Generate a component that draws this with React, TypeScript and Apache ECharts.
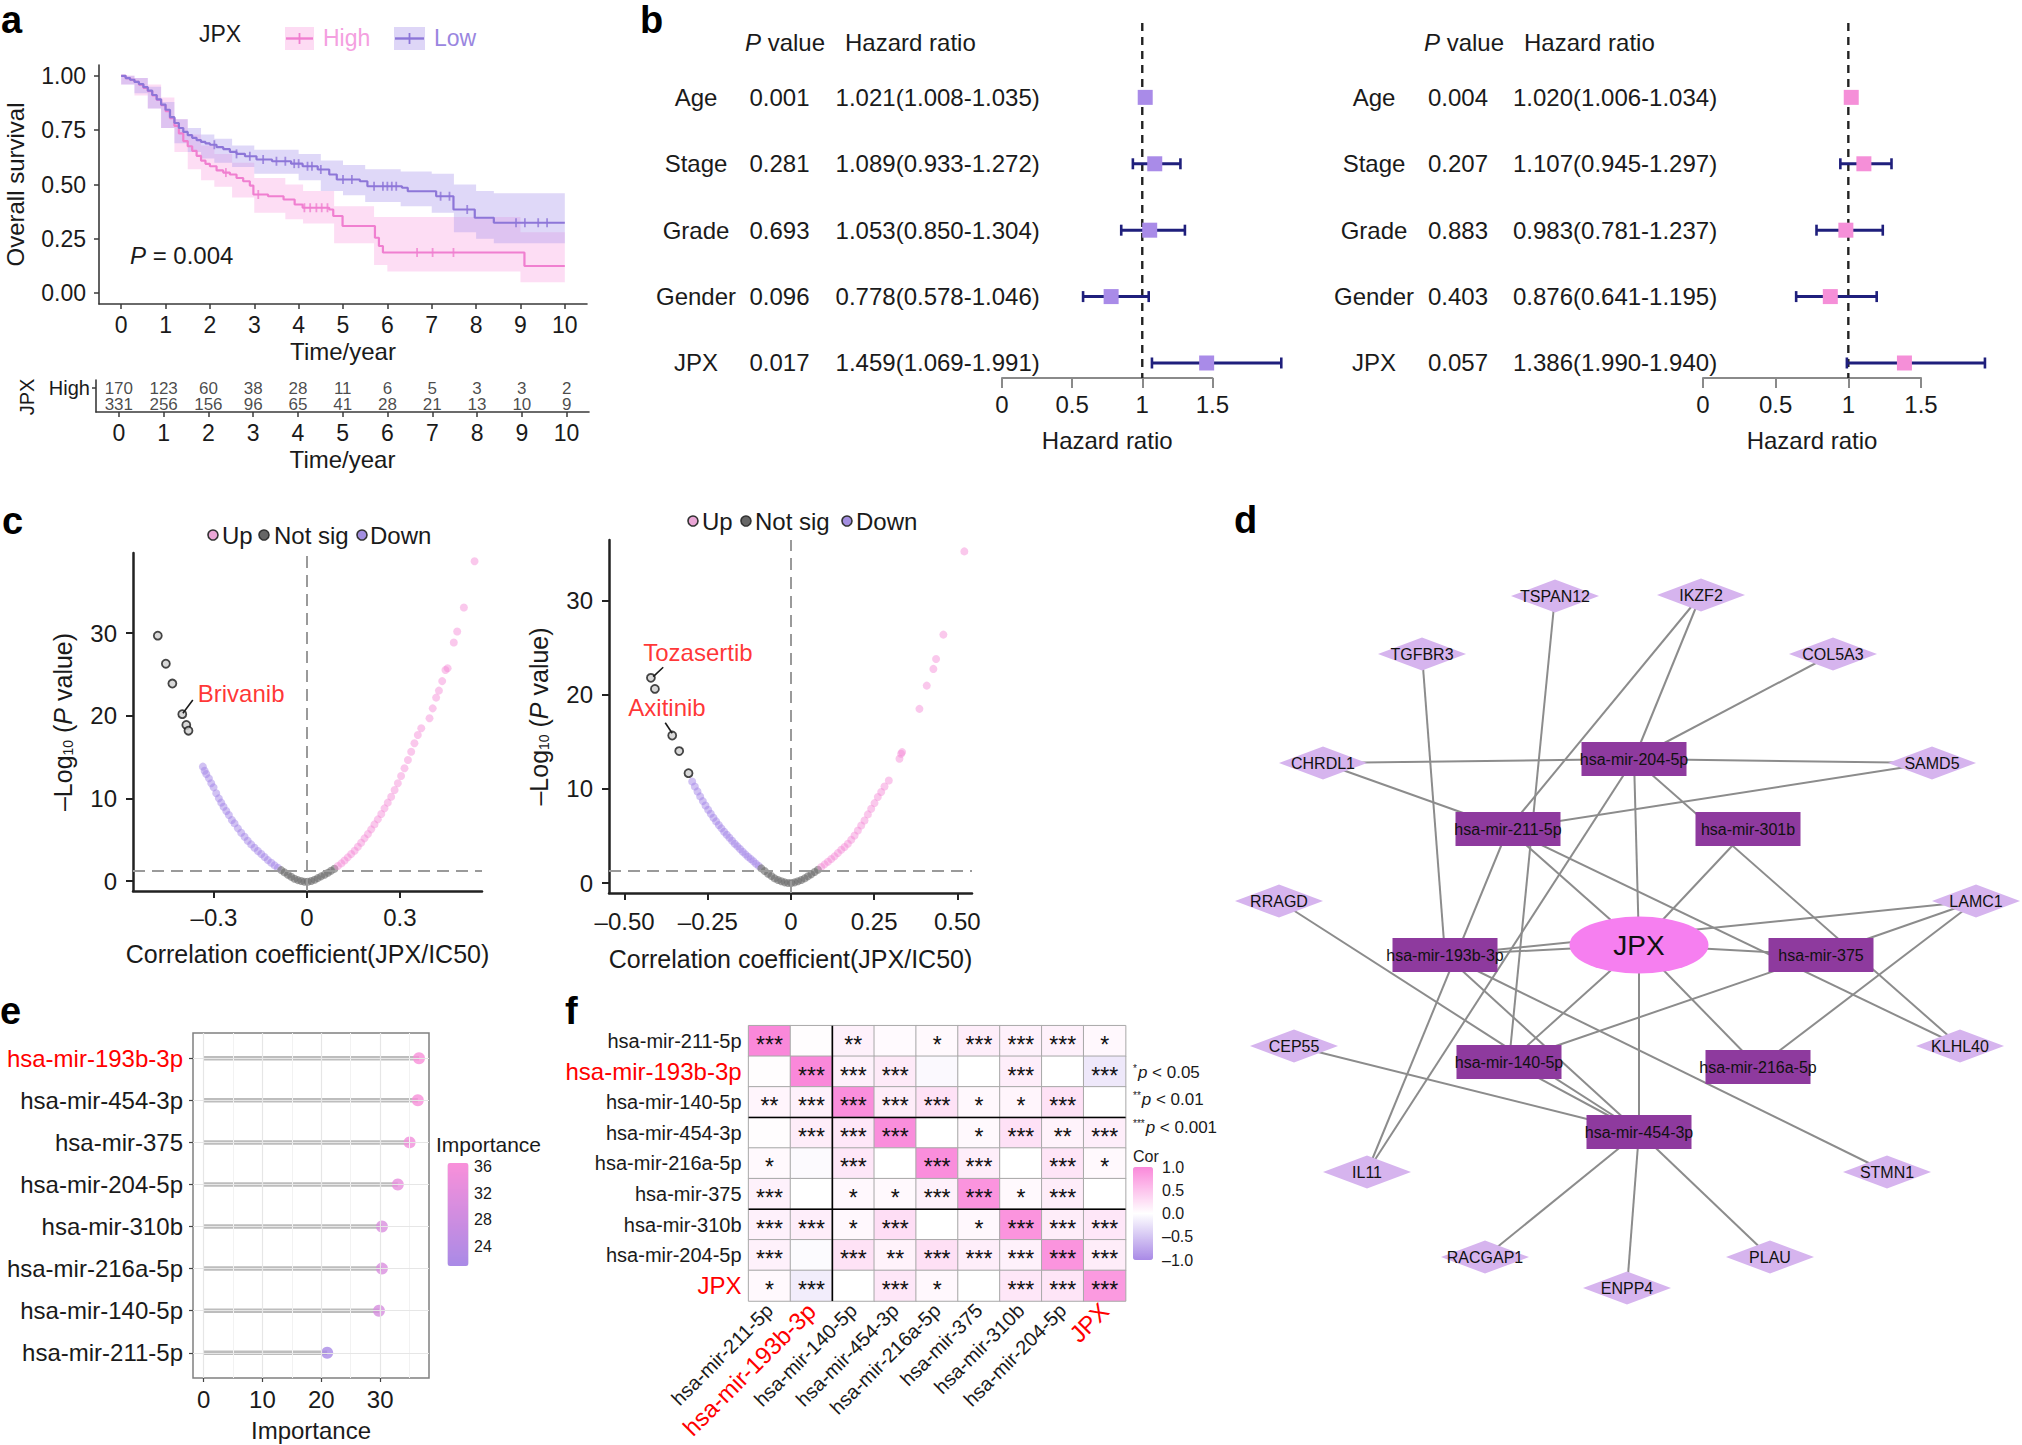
import React, { useEffect, useRef } from "react";
import * as echarts from "echarts";

const FONT = "'Liberation Sans', Arial, Helvetica, sans-serif";
const INK = "#1a1a1a";
const RED = "#ff0000";

// ---------------- a: Kaplan-Meier ----------------
const kmYears = [0, 1, 2, 3, 4, 5, 6, 7, 8, 9, 10];
const kmSurvTicks = [0, 0.25, 0.5, 0.75, 1];
const kmHigh: number[][] = [
  [0, 1], [0.1, 0.99], [0.2, 0.982], [0.3, 0.972], [0.4, 0.96], [0.5, 0.945], [0.6, 0.93], [0.7, 0.91],
  [0.8, 0.89], [0.9, 0.865], [1.0, 0.838], [1.1, 0.805], [1.2, 0.77], [1.3, 0.735], [1.4, 0.7], [1.5, 0.676],
  [1.6, 0.655], [1.7, 0.632], [1.8, 0.61], [1.9, 0.595], [2.0, 0.584], [2.15, 0.565], [2.3, 0.555], [2.45, 0.546],
  [2.6, 0.53], [2.75, 0.515], [2.9, 0.495], [2.98, 0.454], [3.31, 0.446], [3.66, 0.431], [3.91, 0.408],
  [4.09, 0.393], [4.69, 0.385], [4.78, 0.355], [4.99, 0.309], [5.72, 0.255], [5.81, 0.217], [5.9, 0.187],
  [9.09, 0.125], [10, 0.125],
];
const kmLow: number[][] = [
  [0, 1], [0.1, 0.99], [0.2, 0.982], [0.3, 0.972], [0.4, 0.962], [0.5, 0.948], [0.6, 0.932], [0.7, 0.912],
  [0.8, 0.892], [0.9, 0.868], [1.0, 0.844], [1.1, 0.81], [1.2, 0.783], [1.3, 0.76], [1.4, 0.742], [1.5, 0.727],
  [1.6, 0.715], [1.7, 0.704], [1.8, 0.696], [1.9, 0.689], [2.0, 0.683], [2.15, 0.672], [2.3, 0.663], [2.45, 0.65],
  [2.6, 0.641], [2.79, 0.63], [3.05, 0.615], [3.4, 0.607], [3.83, 0.596], [4.09, 0.584], [4.43, 0.569],
  [4.69, 0.546], [4.86, 0.523], [5.38, 0.515], [5.55, 0.492], [6.33, 0.485], [6.46, 0.469], [7.1, 0.446],
  [7.49, 0.385], [7.97, 0.347], [8.4, 0.324], [10, 0.324],
];
// [t0, t1, lower, upper]
const kmHighCI: number[][] = [
  [0, 0.3, 0.96, 1.0], [0.3, 0.6, 0.91, 0.99], [0.6, 0.9, 0.85, 0.96], [0.9, 1.2, 0.76, 0.9],
  [1.2, 1.5, 0.65, 0.8], [1.5, 1.8, 0.57, 0.73], [1.8, 2.1, 0.52, 0.68], [2.1, 2.5, 0.49, 0.64],
  [2.5, 3.0, 0.44, 0.6], [3.0, 3.7, 0.37, 0.53], [3.7, 4.1, 0.34, 0.5], [4.1, 4.8, 0.32, 0.47],
  [4.8, 5.7, 0.23, 0.4], [5.7, 6.0, 0.13, 0.35], [6.0, 9.0, 0.1, 0.35], [9.0, 10.0, 0.05, 0.28],
];
const kmLowCI: number[][] = [
  [0, 0.3, 0.96, 1.0], [0.3, 0.6, 0.92, 0.99], [0.6, 0.9, 0.85, 0.95], [0.9, 1.2, 0.76, 0.88],
  [1.2, 1.5, 0.69, 0.8], [1.5, 1.8, 0.65, 0.76], [1.8, 2.1, 0.62, 0.73], [2.1, 2.5, 0.6, 0.71],
  [2.5, 3.0, 0.58, 0.68], [3.0, 4.0, 0.55, 0.66], [4.0, 4.5, 0.52, 0.64],
  [4.5, 5.0, 0.47, 0.61], [5.0, 5.5, 0.45, 0.59], [5.5, 6.3, 0.42, 0.57], [6.3, 7.0, 0.4, 0.56],
  [7.0, 7.5, 0.37, 0.55], [7.5, 8.0, 0.28, 0.5], [8.0, 8.4, 0.25, 0.47], [8.4, 10.0, 0.23, 0.46],
];
const kmHighCensor: number[][] = [
  [2.36, 0.555], [3.09, 0.454], [4.13, 0.393], [4.26, 0.393], [4.4, 0.393], [4.52, 0.393], [4.65, 0.393],
  [6.67, 0.187], [7.02, 0.187], [7.49, 0.187],
];
const kmLowCensor: number[][] = [
  [2.1, 0.683], [2.6, 0.641], [2.9, 0.63], [3.2, 0.615], [3.5, 0.607], [3.7, 0.607], [3.9, 0.596], [4.0, 0.596],
  [4.2, 0.584], [4.3, 0.584], [4.5, 0.569], [5.0, 0.523], [5.2, 0.523], [5.7, 0.492], [5.9, 0.492], [6.0, 0.492],
  [6.1, 0.492], [6.2, 0.492], [7.2, 0.446], [7.4, 0.446], [7.8, 0.385], [8.9, 0.324], [9.1, 0.324], [9.4, 0.324], [9.6, 0.324],
];
const riskRows = ["Low", "High"];
const riskHigh = [170, 123, 60, 38, 28, 11, 6, 5, 3, 3, 2];
const riskLow = [331, 256, 156, 96, 65, 41, 28, 21, 13, 10, 9];

// ---------------- b: forest plots ----------------
const forestFactors = ["Age", "Stage", "Grade", "Gender", "JPX"];
const forestTicks = [0, 0.5, 1, 1.5];
const uniP = ["0.001", "0.281", "0.693", "0.096", "0.017"];
const uniHR = [1.021, 1.089, 1.053, 0.778, 1.459];
const uniLo = [1.008, 0.933, 0.85, 0.578, 1.069];
const uniHi = [1.035, 1.272, 1.304, 1.046, 1.991];
const multiP = ["0.004", "0.207", "0.883", "0.403", "0.057"];
const multiHR = [1.02, 1.107, 0.983, 0.876, 1.386];
const multiLo = [1.006, 0.945, 0.781, 0.641, 0.99];
const multiHi = [1.034, 1.297, 1.237, 1.195, 1.94];
const multiText = ["1.020(1.006-1.034)", "1.107(0.945-1.297)", "0.983(0.781-1.237)", "0.876(0.641-1.195)", "1.386(1.990-1.940)"];

// ---------------- c: volcano plots ----------------
const v1Ticks = [-0.3, 0, 0.3];
const v1Down: number[][] = [
  [-0.3355, 13.85], [-0.33, 13.36], [-0.3247, 12.96], [-0.316, 12.43], [-0.3086, 11.83], [-0.301, 11.34],
  [-0.2925, 10.62], [-0.284, 10.01], [-0.2763, 9.49], [-0.2688, 9.0], [-0.26, 8.48], [-0.2516, 7.99],
  [-0.242, 7.39], [-0.2333, 6.98], [-0.2226, 6.38], [-0.212, 5.85], [-0.201, 5.37], [-0.191, 4.88],
  [-0.1796, 4.44], [-0.169, 4.04], [-0.158, 3.63], [-0.147, 3.27], [-0.1366, 2.91], [-0.126, 2.54],
  [-0.115, 2.22], [-0.104, 1.9], [-0.0935, 1.61],
];
const v1NotSig: number[][] = [
  [-0.083, 1.33], [-0.072, 1.05], [-0.061, 0.77], [-0.0505, 0.52], [-0.04, 0.28], [-0.029, 0.12], [-0.018, 0.0],
  [-0.0075, -0.08], [0.003, -0.08], [0.014, 0.0], [0.025, 0.16], [0.035, 0.36], [0.046, 0.57], [0.057, 0.77],
  [0.068, 1.0], [0.078, 1.25], [0.089, 1.49],
];
const v1Up: number[][] = [
  [0.1, 1.82], [0.111, 2.14], [0.1215, 2.5], [0.132, 2.87], [0.143, 3.27], [0.154, 3.67], [0.1645, 4.16],
  [0.175, 4.64], [0.186, 5.17], [0.197, 5.69], [0.2075, 6.26], [0.218, 6.86], [0.229, 7.47], [0.24, 8.11],
  [0.2505, 8.8], [0.261, 9.49], [0.272, 10.21], [0.283, 11.02], [0.2935, 11.83], [0.304, 12.72], [0.315, 13.65],
  [0.326, 14.65], [0.3366, 15.66], [0.347, 16.67], [0.358, 17.68], [0.369, 18.49], [0.3957, 19.7], [0.406, 20.9],
  [0.417, 22.2], [0.426, 23.05], [0.4366, 24.2], [0.447, 25.55], [0.454, 25.76], [0.474, 28.87], [0.485, 30.2],
  [0.5065, 33.1], [0.541, 38.7],
];
const v1Marked: number[][] = [[-0.481, 29.7], [-0.455, 26.3], [-0.434, 23.9], [-0.402, 20.2], [-0.389, 18.9], [-0.382, 18.2]];
const v1Labels = [{ name: "Brivanib", at: [-0.352, 22.7], from: [-0.4, 20.3], to: [-0.368, 21.9] }];

const v2Ticks = [-0.5, -0.25, 0, 0.25, 0.5];
const v2Down: number[][] = [
  [-0.297, 10.78], [-0.289, 10.25], [-0.281, 9.72], [-0.273, 9.19], [-0.265, 8.69], [-0.257, 8.23], [-0.249, 7.77],
  [-0.241, 7.35], [-0.233, 6.93], [-0.225, 6.54], [-0.217, 6.15], [-0.209, 5.8], [-0.201, 5.44], [-0.193, 5.12],
  [-0.185, 4.81], [-0.177, 4.49], [-0.169, 4.17], [-0.161, 3.89], [-0.153, 3.6], [-0.145, 3.32], [-0.137, 3.04],
  [-0.129, 2.79], [-0.121, 2.54], [-0.113, 2.3], [-0.105, 2.05], [-0.097, 1.8],
];
const v2NotSig: number[][] = [
  [-0.089, 1.55], [-0.079, 1.27], [-0.069, 0.99], [-0.059, 0.74], [-0.049, 0.49], [-0.039, 0.32], [-0.029, 0.18],
  [-0.019, 0.07], [-0.009, 0], [0.001, 0], [0.011, 0.07], [0.021, 0.18], [0.031, 0.32], [0.041, 0.49],
  [0.051, 0.71], [0.061, 0.92], [0.071, 1.17], [0.081, 1.41],
];
const v2Up: number[][] = [
  [0.091, 1.7], [0.101, 1.98], [0.111, 2.26], [0.121, 2.54], [0.131, 2.83], [0.141, 3.18], [0.151, 3.53],
  [0.161, 3.82], [0.171, 4.17], [0.181, 4.59], [0.191, 5.05], [0.201, 5.58], [0.211, 6.11], [0.221, 6.64],
  [0.231, 7.28], [0.241, 7.88], [0.251, 8.48], [0.261, 9.12], [0.271, 9.65], [0.281, 10.25], [0.294, 10.88],
  [0.326, 13.18], [0.331, 13.71], [0.334, 13.89], [0.386, 18.48], [0.408, 20.95], [0.428, 22.72], [0.436, 23.78],
  [0.458, 26.36], [0.521, 35.19],
];
const v2Marked: number[][] = [[-0.421, 21.77], [-0.409, 20.6], [-0.357, 15.65], [-0.336, 14.0], [-0.308, 11.66]];
const v2Labels = [
  { name: "Tozasertib", at: [-0.444, 24.5], from: [-0.384, 22.9], to: [-0.414, 21.9] },
  { name: "Axitinib", at: [-0.489, 18.6], from: [-0.378, 17.0], to: [-0.357, 15.9] },
];

// ---------------- d: network ----------------
// [name, kind, x, y] in layout units
const netNodes: [string, string, number, number][] = [
  ["TSPAN12", "gene", 355, 116], ["IKZF2", "gene", 501, 115], ["TGFBR3", "gene", 222, 174], ["COL5A3", "gene", 633, 174],
  ["CHRDL1", "gene", 123, 283], ["SAMD5", "gene", 732, 283], ["RRAGD", "gene", 79, 421], ["LAMC1", "gene", 776, 421],
  ["CEP55", "gene", 94, 566], ["KLHL40", "gene", 760, 566], ["IL11", "gene", 167, 692], ["STMN1", "gene", 687, 692],
  ["RACGAP1", "gene", 285, 777], ["ENPP4", "gene", 427, 808], ["PLAU", "gene", 570, 777],
  ["hsa-mir-204-5p", "mir", 434, 279], ["hsa-mir-211-5p", "mir", 308, 349], ["hsa-mir-301b", "mir", 548, 349],
  ["hsa-mir-193b-3p", "mir", 245, 475], ["hsa-mir-375", "mir", 621, 475], ["hsa-mir-140-5p", "mir", 309, 582],
  ["hsa-mir-216a-5p", "mir", 558, 587], ["hsa-mir-454-3p", "mir", 439, 652],
  ["JPX", "lnc", 439, 465],
];
const netEdges: [string, string][] = [
  ["JPX", "hsa-mir-204-5p"], ["JPX", "hsa-mir-211-5p"], ["JPX", "hsa-mir-301b"], ["JPX", "hsa-mir-193b-3p"],
  ["JPX", "hsa-mir-375"], ["JPX", "hsa-mir-140-5p"], ["JPX", "hsa-mir-216a-5p"], ["JPX", "hsa-mir-454-3p"],
  ["hsa-mir-204-5p", "IKZF2"], ["hsa-mir-204-5p", "COL5A3"], ["hsa-mir-204-5p", "CHRDL1"], ["hsa-mir-204-5p", "SAMD5"],
  ["hsa-mir-204-5p", "KLHL40"], ["hsa-mir-204-5p", "IL11"],
  ["hsa-mir-211-5p", "IKZF2"], ["hsa-mir-211-5p", "CHRDL1"], ["hsa-mir-211-5p", "SAMD5"], ["hsa-mir-211-5p", "IL11"],
  ["hsa-mir-211-5p", "KLHL40"],
  ["hsa-mir-193b-3p", "TGFBR3"], ["hsa-mir-193b-3p", "LAMC1"], ["hsa-mir-193b-3p", "STMN1"], ["hsa-mir-193b-3p", "hsa-mir-454-3p"],
  ["hsa-mir-140-5p", "TSPAN12"], ["hsa-mir-140-5p", "hsa-mir-375"], ["hsa-mir-140-5p", "hsa-mir-454-3p"],
  ["hsa-mir-375", "LAMC1"], ["hsa-mir-216a-5p", "LAMC1"],
  ["hsa-mir-454-3p", "RRAGD"], ["hsa-mir-454-3p", "CEP55"], ["hsa-mir-454-3p", "RACGAP1"], ["hsa-mir-454-3p", "ENPP4"],
  ["hsa-mir-454-3p", "PLAU"],
];

// ---------------- e: importance ----------------
const impNames = ["hsa-mir-193b-3p", "hsa-mir-454-3p", "hsa-mir-375", "hsa-mir-204-5p", "hsa-mir-310b", "hsa-mir-216a-5p", "hsa-mir-140-5p", "hsa-mir-211-5p"];
const impValues = [36.6, 36.4, 35.0, 33.0, 30.3, 30.3, 29.8, 21.0];
const impTicks = [0, 10, 20, 30];
const impLegendTicks = [24, 28, 32, 36];

// ---------------- f: correlation heatmap ----------------
const corNames = ["hsa-mir-211-5p", "hsa-mir-193b-3p", "hsa-mir-140-5p", "hsa-mir-454-3p", "hsa-mir-216a-5p", "hsa-mir-375", "hsa-mir-310b", "hsa-mir-204-5p", "JPX"];
const corValues = [
  [1.0, 0.02, 0.12, 0.04, 0.05, 0.14, 0.12, 0.12, 0.06],
  [0.02, 1.0, 0.12, 0.18, -0.05, 0.0, 0.14, 0.0, -0.2],
  [0.08, 0.12, 0.95, 0.15, 0.24, 0.06, 0.08, 0.24, 0.0],
  [0.02, 0.15, 0.2, 0.95, 0.0, 0.05, 0.25, 0.1, 0.14],
  [0.05, -0.04, 0.2, 0.0, 0.95, 0.14, 0.0, 0.22, 0.05],
  [0.12, 0.0, 0.06, 0.05, 0.12, 0.9, 0.05, 0.15, 0.0],
  [0.12, 0.14, 0.06, 0.28, 0.0, 0.06, 0.9, 0.15, 0.2],
  [0.12, -0.03, 0.24, 0.1, 0.26, 0.14, 0.12, 0.9, 0.15],
  [0.05, -0.15, 0.0, 0.2, 0.06, 0.0, 0.2, 0.22, 0.85],
];
const corStars = [
  ["***", "", "**", "", "*", "***", "***", "***", "*"],
  ["", "***", "***", "***", "", "", "***", "", "***"],
  ["**", "***", "***", "***", "***", "*", "*", "***", ""],
  ["", "***", "***", "***", "", "*", "***", "**", "***"],
  ["*", "", "***", "", "***", "***", "", "***", "*"],
  ["***", "", "*", "*", "***", "***", "*", "***", ""],
  ["***", "***", "*", "***", "", "*", "***", "***", "***"],
  ["***", "", "***", "**", "***", "***", "***", "***", "***"],
  ["*", "***", "", "***", "*", "", "***", "***", "***"],
];
const corLegendTicks = [1.0, 0.5, 0.0, -0.5, -1.0];
const highlightNames = ["hsa-mir-193b-3p", "JPX"];

// ---------------- layout ----------------
const G = {
  km: { left: 99, top: 65, width: 488, height: 239 },
  risk: { left: 96, top: 380, width: 493, height: 32 },
  fl: { left: 1002, top: 23, width: 210.4, height: 355 },
  fr: { left: 1703, top: 23, width: 218, height: 355 },
  v1: { left: 133, top: 553, width: 349, height: 338 },
  v2: { left: 609, top: 540, width: 363, height: 353 },
  e: { left: 193, top: 1033, width: 236, height: 345 },
  f: { left: 748.6, top: 1025.7, width: 377, height: 275.3 },
  n: { left: 1200, top: 480, width: 822, height: 965 },
};
const FOREST_Y = [-1.12, 4.226];

const txt = (size: number, extra: any = {}) => ({ fontFamily: FONT, fontSize: size, color: INK, ...extra });
const dash = (v: number) => (v < 0 ? "\u2013" + String(Math.abs(v)) : String(v));

function textEl(text: string, x: number, y: number, size: number, extra: any = {}, styleExtra: any = {}) {
  return {
    type: "text", x, y, silent: true, ...extra,
    style: { text, fontFamily: FONT, fontSize: size, fill: INK, align: "left", verticalAlign: "middle", ...styleExtra },
  };
}

function bandSeries(band: number[][], fill: string) {
  return {
    type: "custom", xAxisIndex: 0, yAxisIndex: 0, z: 1, clip: false, silent: true,
    data: [[0, 0]],
    renderItem: (_p: any, api: any) => {
      const upper: number[][] = [];
      const lower: number[][] = [];
      band.forEach((b) => {
        upper.push(api.coord([b[0], b[3]]), api.coord([b[1], b[3]]));
        lower.push(api.coord([b[0], b[2]]), api.coord([b[1], b[2]]));
      });
      return { type: "polygon", shape: { points: upper.concat(lower.reverse()) }, style: { fill } };
    },
  };
}

function forestSeries(hr: number[], lo: number[], hi: number[], color: string, axis: number) {
  const navy = "#1f1f7c";
  return {
    type: "custom", xAxisIndex: axis, yAxisIndex: axis, clip: false, z: 5, silent: true,
    encode: { x: [0, 1, 2], y: 3 },
    data: hr.map((h, i) => [h, lo[i], hi[i], i]),
    renderItem: (_p: any, api: any) => {
      const row = api.value(3);
      const c = api.coord([api.value(0), row]);
      const a = api.coord([api.value(1), row]);
      const b = api.coord([api.value(2), row]);
      const cap = 5.5;
      return {
        type: "group",
        children: [
          { type: "line", shape: { x1: a[0], y1: a[1], x2: b[0], y2: b[1] }, style: { stroke: navy, lineWidth: 3 } },
          { type: "line", shape: { x1: a[0], y1: a[1] - cap, x2: a[0], y2: a[1] + cap }, style: { stroke: navy, lineWidth: 2.6 } },
          { type: "line", shape: { x1: b[0], y1: b[1] - cap, x2: b[0], y2: b[1] + cap }, style: { stroke: navy, lineWidth: 2.6 } },
          { type: "rect", shape: { x: c[0] - 7.5, y: c[1] - 7.5, width: 15, height: 15 }, style: { fill: color } },
        ],
      };
    },
  };
}

function volcanoSeries(ax: number, down: number[][], ns: number[][], up: number[][], marked: number[][], labels: any[]) {
  const dashed = { type: [12, 7], color: "#9a9a9a", width: 2 };
  return [
    { type: "scatter", xAxisIndex: ax, yAxisIndex: ax, data: down, symbolSize: 8, itemStyle: { color: "rgba(158,128,230,0.6)" }, z: 3, silent: true },
    { type: "scatter", xAxisIndex: ax, yAxisIndex: ax, data: ns, symbolSize: 8, itemStyle: { color: "rgba(105,105,105,0.75)" }, z: 3, silent: true },
    { type: "scatter", xAxisIndex: ax, yAxisIndex: ax, data: up, symbolSize: 8, itemStyle: { color: "rgba(244,130,212,0.55)" }, z: 3, silent: true },
    {
      type: "scatter", xAxisIndex: ax, yAxisIndex: ax, data: marked, symbolSize: 8, z: 4, silent: true,
      itemStyle: { color: "#cfcfcf", borderColor: "#1a1a1a", borderWidth: 1.8 },
      markLine: {
        silent: true, symbol: ["none", "none"], label: { show: false }, animation: false,
        data: [
          { xAxis: 0, lineStyle: dashed },
          { yAxis: 1.3, lineStyle: dashed },
          ...labels.map((l) => [
            { coord: l.from, lineStyle: { color: "#1a1a1a", width: 1.6, type: "solid" } },
            { coord: l.to },
          ]),
        ],
      },
    },
    {
      type: "scatter", xAxisIndex: ax, yAxisIndex: ax, symbolSize: 0, z: 6, silent: true,
      data: labels.map((l) => ({ name: l.name, value: l.at })),
      label: { show: true, formatter: "{b}", position: "right", distance: 0, ...txt(24, { color: RED }) },
    },
  ];
}

function buildOption() {
  const grids = [G.km, G.risk, G.fl, G.fr, G.v1, G.v2, G.e, G.f, G.n].map((g) => ({ ...g, containLabel: false }));
  (grids[6] as any).show = true;
  (grids[6] as any).borderColor = "#808080";
  (grids[6] as any).borderWidth = 1.5;
  (grids[6] as any).backgroundColor = "transparent";

  const darkLine = { onZero: false, lineStyle: { color: "#3a3a3a", width: 1.6 } };
  const volcLine = { onZero: false, lineStyle: { color: "#222", width: 2.5 } };
  const volcYName = {
    ...txt(25),
    rich: {
      n: { fontFamily: FONT, fontSize: 25, color: INK },
      s: { fontFamily: FONT, fontSize: 14, color: INK, verticalAlign: "bottom", lineHeight: 14, padding: [12, 0, 0, 0] },
      i: { fontFamily: FONT, fontSize: 25, color: INK, fontStyle: "italic" },
    },
  };

  const xAxis: any[] = [
    {
      gridIndex: 0, type: "value", min: -0.5, max: 10.5, axisLine: darkLine,
      axisTick: { customValues: kmYears, length: 5, lineStyle: { color: "#3a3a3a", width: 1.5 } },
      axisLabel: { customValues: kmYears, ...txt(23), margin: 9 }, splitLine: { show: false },
      name: "Time/year", nameLocation: "middle", nameGap: 35, nameTextStyle: txt(24),
    },
    {
      gridIndex: 1, type: "value", min: -0.51, max: 10.5, axisLine: darkLine,
      axisTick: { customValues: kmYears, length: 5, lineStyle: { color: "#3a3a3a", width: 1.5 } },
      axisLabel: { customValues: kmYears, ...txt(23), margin: 9 }, splitLine: { show: false },
      name: "Time/year", nameLocation: "middle", nameGap: 35, nameTextStyle: txt(24),
    },
    ...[2, 3].map((gi) => ({
      gridIndex: gi, type: "value", min: 0, max: 1.5,
      axisLine: { onZero: false, lineStyle: { color: "#8a8a8a", width: 2 } },
      axisTick: { customValues: forestTicks, length: 10, lineStyle: { color: "#8a8a8a", width: 2 } },
      axisLabel: { customValues: forestTicks, ...txt(24), margin: 14 }, splitLine: { show: false },
      name: "Hazard ratio", nameLocation: "middle", nameGap: 50, nameTextStyle: txt(24),
    })),
    {
      gridIndex: 4, type: "value", min: -0.561, max: 0.565, axisLine: volcLine,
      axisTick: { customValues: v1Ticks, length: 7, lineStyle: { color: "#222", width: 2 } },
      axisLabel: { customValues: v1Ticks, formatter: dash, ...txt(24), margin: 14 }, splitLine: { show: false },
      name: "Correlation coefficient(JPX/IC50)", nameLocation: "middle", nameGap: 50, nameTextStyle: txt(25),
    },
    {
      gridIndex: 5, type: "value", min: -0.547, max: 0.544, axisLine: volcLine,
      axisTick: { customValues: v2Ticks, length: 7, lineStyle: { color: "#222", width: 2 } },
      axisLabel: { customValues: v2Ticks, formatter: (v: number) => (v === 0 ? "0" : (v < 0 ? "\u2013" : "") + Math.abs(v).toFixed(2)), ...txt(24), margin: 16 },
      splitLine: { show: false },
      name: "Correlation coefficient(JPX/IC50)", nameLocation: "middle", nameGap: 53, nameTextStyle: txt(25),
    },
    {
      gridIndex: 6, type: "value", min: -1.8, max: 38.3, axisLine: { show: false, onZero: false },
      axisTick: { show: true, customValues: impTicks, length: 4, lineStyle: { color: "#444", width: 1.2 } },
      axisLabel: { customValues: impTicks, ...txt(24), margin: 9 }, splitLine: { show: false },
      name: "Importance", nameLocation: "middle", nameGap: 40, nameTextStyle: txt(24),
    },
    {
      gridIndex: 7, type: "category", data: corNames, position: "bottom",
      axisLine: { show: false }, axisTick: { show: false }, splitLine: { show: false },
      axisLabel: {
        interval: 0, rotate: 45, margin: 6, ...txt(20),
        formatter: (v: string) => (highlightNames.includes(v) ? `{r|${v}}` : v),
        rich: { r: { fontFamily: FONT, fontSize: 24, color: RED } },
      },
    },
    { gridIndex: 8, type: "value", min: 0, max: G.n.width, show: false },
  ];

  const yAxis: any[] = [
    {
      gridIndex: 0, type: "value", min: -0.05, max: 1.05, axisLine: darkLine,
      axisTick: { customValues: kmSurvTicks, length: 5, lineStyle: { color: "#3a3a3a", width: 1.5 } },
      axisLabel: { customValues: kmSurvTicks, formatter: (v: number) => v.toFixed(2), ...txt(23), margin: 13 },
      splitLine: { show: false },
      name: "Overall survival", nameLocation: "middle", nameRotate: 90, nameGap: 72, nameTextStyle: txt(24),
    },
    {
      gridIndex: 1, type: "value", min: -0.5, max: 1.5, axisLine: darkLine,
      axisTick: { customValues: [0, 1], length: 4, lineStyle: { color: "#3a3a3a", width: 1.5 } },
      axisLabel: { customValues: [0, 1], formatter: (v: number) => riskRows[Math.round(v)], ...txt(20), margin: 6 },
      splitLine: { show: false },
    },
    { gridIndex: 2, type: "value", min: FOREST_Y[0], max: FOREST_Y[1], inverse: true, show: false },
    { gridIndex: 3, type: "value", min: FOREST_Y[0], max: FOREST_Y[1], inverse: true, show: false },
    {
      gridIndex: 4, type: "value", min: -1.2, max: 39.7, axisLine: volcLine,
      axisTick: { customValues: [0, 10, 20, 30], length: 7, lineStyle: { color: "#222", width: 2 } },
      axisLabel: { customValues: [0, 10, 20, 30], ...txt(24), margin: 16 }, splitLine: { show: false },
      name: "{n|\u2013Log}{s|10}{n| (}{i|P}{n| value)}", nameLocation: "middle", nameRotate: 90, nameGap: 58,
      nameTextStyle: volcYName,
    },
    {
      gridIndex: 5, type: "value", min: -1.06, max: 36.4, axisLine: volcLine,
      axisTick: { customValues: [0, 10, 20, 30], length: 7, lineStyle: { color: "#222", width: 2 } },
      axisLabel: { customValues: [0, 10, 20, 30], ...txt(24), margin: 16 }, splitLine: { show: false },
      name: "{n|\u2013Log}{s|10}{n| (}{i|P}{n| value)}", nameLocation: "middle", nameRotate: 90, nameGap: 58,
      nameTextStyle: volcYName,
    },
    {
      gridIndex: 6, type: "value", min: 0.4, max: 8.6, inverse: true, axisLine: { show: false, onZero: false },
      axisTick: { show: true, customValues: impNames.map((_, i) => i + 1), length: 4, lineStyle: { color: "#444", width: 1.2 } },
      axisLabel: {
        customValues: impNames.map((_, i) => i + 1), margin: 10, ...txt(24),
        formatter: (v: number) => {
          const n = impNames[Math.round(v) - 1];
          return highlightNames.includes(n) ? `{r|${n}}` : n;
        },
        rich: { r: { fontFamily: FONT, fontSize: 24, color: RED } },
      },
      splitLine: { show: false },
    },
    {
      gridIndex: 7, type: "category", data: corNames, inverse: true,
      axisLine: { show: false }, axisTick: { show: false }, splitLine: { show: false },
      axisLabel: {
        interval: 0, margin: 7, ...txt(20),
        formatter: (v: string) => (highlightNames.includes(v) ? `{r|${v}}` : v),
        rich: { r: { fontFamily: FONT, fontSize: 24, color: RED } },
      },
    },
    { gridIndex: 8, type: "value", min: 0, max: G.n.height, inverse: true, show: false },
  ];

  const series: any[] = [];
  // a
  series.push(bandSeries(kmHighCI, "rgba(250,165,225,0.38)"));
  series.push(bandSeries(kmLowCI, "rgba(172,152,236,0.38)"));
  series.push({ type: "line", xAxisIndex: 0, yAxisIndex: 0, step: "end", data: kmHigh, symbol: "none", lineStyle: { color: "#f07fd0", width: 2.2 }, z: 3, silent: true });
  series.push({ type: "line", xAxisIndex: 0, yAxisIndex: 0, step: "end", data: kmLow, symbol: "none", lineStyle: { color: "#8d76d8", width: 2.2 }, z: 3, silent: true });
  series.push({ type: "scatter", xAxisIndex: 0, yAxisIndex: 0, data: kmHighCensor, symbol: "rect", symbolSize: [1.8, 9], itemStyle: { color: "#f07fd0" }, z: 4, silent: true });
  series.push({ type: "scatter", xAxisIndex: 0, yAxisIndex: 0, data: kmLowCensor, symbol: "rect", symbolSize: [1.8, 9], itemStyle: { color: "#8d76d8" }, z: 4, silent: true });
  [[riskHigh, 1], [riskLow, 0]].forEach(([counts, row]: any) => {
    series.push({
      type: "scatter", xAxisIndex: 1, yAxisIndex: 1, symbolSize: 1, itemStyle: { color: "transparent" }, silent: true,
      data: kmYears.map((t, i) => [t, row, counts[i]]),
      label: { show: true, position: "inside", formatter: (p: any) => String(p.value[2]), ...txt(17) },
    });
  });
  // b
  [[2, uniHR, uniLo, uniHi, "#a98be8"], [3, multiHR, multiLo, multiHi, "#f58fd8"]].forEach(([ax, hr, lo, hi, col]: any) => {
    series.push({
      type: "line", xAxisIndex: ax, yAxisIndex: ax, data: [[1, FOREST_Y[0]], [1, FOREST_Y[1]]], symbol: "none", z: 2, silent: true,
      lineStyle: { color: "#222", width: 2.4, type: [8, 6] },
    });
    series.push(forestSeries(hr, lo, hi, col, ax));
  });
  // c
  series.push(...volcanoSeries(4, v1Down, v1NotSig, v1Up, v1Marked, v1Labels));
  series.push(...volcanoSeries(5, v2Down, v2NotSig, v2Up, v2Marked, v2Labels));
  // e
  const major = { color: "#e6e6e6", width: 1.2, type: "solid" };
  const minor = { color: "#f2f2f2", width: 1, type: "solid" };
  series.push({
    type: "scatter", xAxisIndex: 6, yAxisIndex: 6, data: [[0, 1]], symbolSize: 0, itemStyle: { opacity: 0 }, z: 1, silent: true,
    markLine: {
      silent: true, symbol: ["none", "none"], label: { show: false }, animation: false,
      data: [
        ...[5, 15, 25, 35].map((v) => ({ xAxis: v, lineStyle: minor })),
        ...impTicks.map((v) => ({ xAxis: v, lineStyle: major })),
        ...impNames.map((_, i) => ({ yAxis: i + 1, lineStyle: major })),
      ],
    },
  });
  series.push({
    type: "custom", xAxisIndex: 6, yAxisIndex: 6, z: 3, silent: true, encode: { x: 0, y: 1 },
    data: impValues.map((v, i) => [v, i + 1]),
    renderItem: (_p: any, api: any) => {
      const a = api.coord([0, api.value(1)]);
      const b = api.coord([api.value(0), api.value(1)]);
      return { type: "line", shape: { x1: a[0], y1: a[1], x2: b[0], y2: b[1] }, style: { stroke: "#bdbdbd", lineWidth: 4.5 } };
    },
  });
  const eDotsIdx = series.length;
  series.push({ type: "scatter", xAxisIndex: 6, yAxisIndex: 6, z: 4, silent: true, symbolSize: 12, data: impValues.map((v, i) => [v, i + 1]) });
  // f
  const fIdx = series.length;
  const heat: number[][] = [];
  corValues.forEach((row, r) => row.forEach((v, c) => heat.push([c, r, v])));
  series.push({
    type: "heatmap", xAxisIndex: 7, yAxisIndex: 7, data: heat, silent: true,
    itemStyle: { borderColor: "#a8a8a8", borderWidth: 1 },
    label: { show: true, formatter: (p: any) => corStars[p.value[1]][p.value[0]], ...txt(23, { color: "#111" }), offset: [0, 4] },
  });
  // d
  series.push({
    type: "graph", layout: "none", coordinateSystem: "cartesian2d", xAxisIndex: 8, yAxisIndex: 8, silent: true, z: 3,
    data: netNodes.map(([name, kind, x, y]) => ({
      name, value: [x, y],
      symbol: kind === "mir" ? "rect" : kind === "gene" ? "diamond" : "path://M0,50A50,50,0,1,1,100,50A50,50,0,1,1,0,50Z",
      symbolSize: kind === "mir" ? [105, 34] : kind === "gene" ? [88, 33] : [139, 57],
      itemStyle: { color: kind === "mir" ? "#8e3a9e" : kind === "gene" ? "#d6b4ee" : "#f67ff0" },
      label: { show: true, position: "inside", formatter: "{b}", ...txt(kind === "lnc" ? 28 : 16, { color: "#111" }) },
    })),
    links: netEdges.map(([s, t]) => ({ source: s, target: t })),
    lineStyle: { color: "#8c8c8c", width: 2, opacity: 1, curveness: 0 },
  });

  const visualMap: any[] = [
    {
      type: "continuous", seriesIndex: eDotsIdx, dimension: 0, min: 21.0, max: 36.6, calculable: false, show: true,
      inRange: { color: ["#a98ae6", "#f990da"] }, left: 447.5, top: 1163, itemWidth: 21, itemHeight: 103, padding: 0, text: null, hoverLink: false,
    },
    {
      type: "continuous", seriesIndex: fIdx, dimension: 2, min: -1, max: 1, calculable: false, show: true,
      inRange: { color: ["#a98ae6", "#ffffff", "#fa88da"] }, left: 1133, top: 1167, itemWidth: 20, itemHeight: 93, padding: 0, text: null, hoverLink: false,
    },
  ];

  const graphic: any[] = [];
  // panel letters
  ([["a", 1, 20], ["b", 640, 20], ["c", 2, 521], ["d", 1234, 520], ["e", 0, 1011], ["f", 565, 1011]] as any[]).forEach(([t, x, y]) =>
    graphic.push(textEl(t, x, y, 38, {}, { fontWeight: "bold", fill: "#000" }))
  );
  // a legend
  graphic.push(textEl("JPX", 220, 34, 23, {}, { align: "center" }));
  graphic.push({ type: "rect", shape: { x: 285, y: 27, width: 29, height: 23 }, style: { fill: "rgba(250,165,225,0.4)" }, silent: true });
  graphic.push({ type: "line", shape: { x1: 286, y1: 38.5, x2: 313, y2: 38.5 }, style: { stroke: "#f07fd0", lineWidth: 2.4 }, silent: true });
  graphic.push({ type: "line", shape: { x1: 299.5, y1: 33, x2: 299.5, y2: 44 }, style: { stroke: "#f07fd0", lineWidth: 1.8 }, silent: true });
  graphic.push(textEl("High", 323, 38, 23, {}, { fill: "#f4a0e0" }));
  graphic.push({ type: "rect", shape: { x: 394, y: 27, width: 31, height: 23 }, style: { fill: "rgba(172,152,236,0.4)" }, silent: true });
  graphic.push({ type: "line", shape: { x1: 395, y1: 38.5, x2: 424, y2: 38.5 }, style: { stroke: "#8d76d8", lineWidth: 2.4 }, silent: true });
  graphic.push({ type: "line", shape: { x1: 409.5, y1: 33, x2: 409.5, y2: 44 }, style: { stroke: "#8d76d8", lineWidth: 1.8 }, silent: true });
  graphic.push(textEl("Low", 434, 38, 23, {}, { fill: "#9a86e0" }));
  graphic.push(textEl("{i|P}{n| = 0.004}", 130, 255, 24, {}, {
    rich: { i: { fontFamily: FONT, fontSize: 24, fontStyle: "italic", fill: INK }, n: { fontFamily: FONT, fontSize: 24, fill: INK } },
  }));
  graphic.push(textEl("JPX", 27, 397, 20, { rotation: Math.PI / 2 }, { align: "center" }));
  // b tables
  const rowY = (i: number) => G.fl.top + ((i - FOREST_Y[0]) / (FOREST_Y[1] - FOREST_Y[0])) * G.fl.height;
  const tables = [
    { lab: 696, p: 749.5, hr: 835.6, hp: 745, hh: 845, ps: uniP, texts: uniHR.map((h, i) => `${h.toFixed(3)}(${uniLo[i].toFixed(3)}-${uniHi[i].toFixed(3)})`) },
    { lab: 1374, p: 1428, hr: 1513, hp: 1424, hh: 1524, ps: multiP, texts: multiText },
  ];
  tables.forEach((t) => {
    graphic.push(textEl("{i|P}{n| value}", t.hp, 42, 24, {}, {
      rich: { i: { fontFamily: FONT, fontSize: 24, fontStyle: "italic", fill: INK }, n: { fontFamily: FONT, fontSize: 24, fill: INK } },
    }));
    graphic.push(textEl("Hazard ratio", t.hh, 42, 24));
    forestFactors.forEach((f, i) => {
      const y = rowY(i);
      graphic.push(textEl(f, t.lab, y, 24, {}, { align: "center" }));
      graphic.push(textEl(t.ps[i], t.p, y, 24));
      graphic.push(textEl(t.texts[i], t.hr, y, 24));
    });
  });
  // c legends
  const legendC = (items: [string, string, number, number][], y: number) =>
    items.forEach(([label, fill, cx, tx]) => {
      graphic.push({ type: "circle", shape: { cx, cy: y, r: 5 }, style: { fill, stroke: "#333", lineWidth: 1.6 }, silent: true });
      graphic.push(textEl(label, tx, y, 24));
    });
  legendC([["Up", "#eaa6d6", 213, 222], ["Not sig", "#666666", 264, 274], ["Down", "#a38ee0", 362, 370]], 535);
  legendC([["Up", "#eaa6d6", 693, 702], ["Not sig", "#666666", 746, 755], ["Down", "#a38ee0", 847, 856]], 521);
  // e legend
  graphic.push(textEl("Importance", 436, 1144, 21));
  impLegendTicks.forEach((v) => {
    const y = 1163 + ((36.6 - v) / (36.6 - 21.0)) * 103;
    graphic.push(textEl(String(v), 474, y, 16));
  });
  // f legend
  const pl = (stars: string, rest: string, y: number) =>
    graphic.push(textEl(`{s|${stars}}{i|p}{n|${rest}}`, 1133, y, 16, {}, {
      rich: {
        s: { fontFamily: FONT, fontSize: 10, fill: INK, verticalAlign: "top", padding: [0, 1, 8, 0] },
        i: { fontFamily: FONT, fontSize: 17, fontStyle: "italic", fill: INK },
        n: { fontFamily: FONT, fontSize: 17, fill: INK },
      },
    }));
  pl("*", " < 0.05", 1072);
  pl("**", " < 0.01", 1099);
  pl("***", " < 0.001", 1127);
  graphic.push(textEl("Cor", 1133, 1156, 16));
  corLegendTicks.forEach((v) => {
    const y = 1167 + ((1 - v) / 2) * 93;
    graphic.push(textEl(v < 0 ? "\u2013" + Math.abs(v).toFixed(1) : v.toFixed(1), 1162, y, 16));
  });
  // f cluster separators
  const cw = G.f.width / corNames.length;
  const ch = G.f.height / corNames.length;
  graphic.push({ type: "line", shape: { x1: G.f.left + 2 * cw, y1: G.f.top, x2: G.f.left + 2 * cw, y2: G.f.top + G.f.height }, style: { stroke: "#000", lineWidth: 1.6 }, silent: true, z: 50 });
  [3, 6].forEach((r) =>
    graphic.push({ type: "line", shape: { x1: G.f.left, y1: G.f.top + r * ch, x2: G.f.left + G.f.width, y2: G.f.top + r * ch }, style: { stroke: "#000", lineWidth: 1.6 }, silent: true, z: 50 })
  );

  return {
    animation: false,
    backgroundColor: "#ffffff",
    textStyle: { fontFamily: FONT },
    grid: grids,
    xAxis,
    yAxis,
    series,
    visualMap,
    graphic,
  };
}

export default function App() {
  const ref = useRef<HTMLDivElement>(null);
  useEffect(() => {
    const chart = echarts.init(ref.current!, null, { renderer: "svg" });
    chart.setOption(buildOption() as any);
    return () => chart.dispose();
  }, []);
  return <div ref={ref} style={{ position: "absolute", left: 0, top: 0, width: 2022, height: 1445, background: "#fff" }} />;
}
